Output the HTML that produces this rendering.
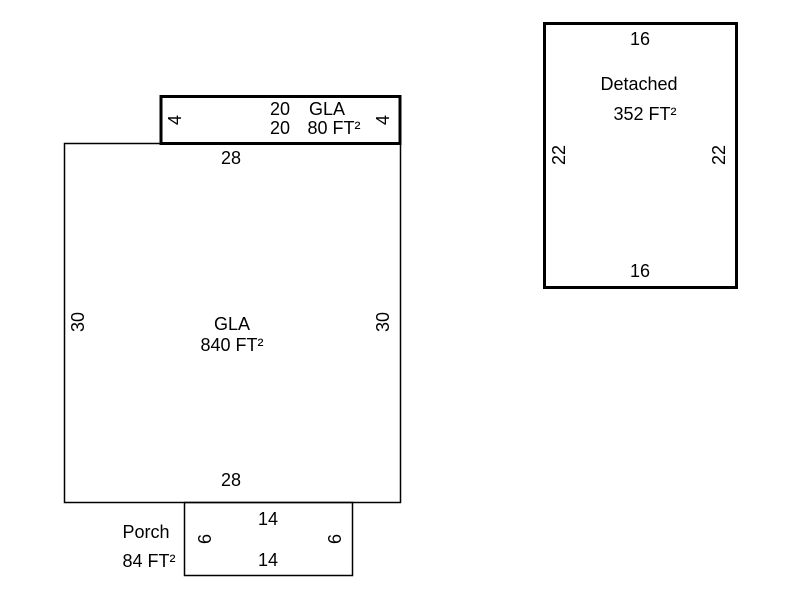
<!DOCTYPE html>
<html><head><style>
html,body{margin:0;padding:0;background:#fff;}
svg{display:block;font-family:"Liberation Sans",Arial,sans-serif;font-size:18px;}
</style></head><body>
<svg width="800" height="600" viewBox="0 0 800 600">
<g fill="none" stroke="#000">
<rect x="64.5" y="143.5" width="336" height="359" stroke-width="1.5"/>
<rect x="184.5" y="502.5" width="168" height="73" stroke-width="1.5"/>
<rect x="161" y="96.5" width="239" height="47" stroke-width="3"/>
<rect x="544.5" y="23.5" width="192" height="264" stroke-width="3"/>
</g>
<g fill="#000" text-anchor="middle">
<text x="280" y="115">20</text>
<text x="280" y="134">20</text>
<text x="327" y="115">GLA</text>
<text x="334" y="134">80 FT²</text>
<text transform="translate(175,120) rotate(-90)" dominant-baseline="central">4</text>
<text transform="translate(383,120) rotate(-90)" dominant-baseline="central">4</text>
<text x="231" y="164">28</text>
<text x="231" y="486">28</text>
<text x="232" y="330">GLA</text>
<text x="232" y="351">840 FT²</text>
<text transform="translate(78,322) rotate(-90)" dominant-baseline="central">30</text>
<text transform="translate(383,322) rotate(-90)" dominant-baseline="central">30</text>
<text x="268" y="525">14</text>
<text x="268" y="566">14</text>
<text x="146" y="538">Porch</text>
<text x="149" y="567">84 FT²</text>
<text transform="translate(205,539) rotate(-90)" dominant-baseline="central">6</text>
<text transform="translate(335,539) rotate(-90)" dominant-baseline="central">6</text>
<text x="640" y="45">16</text>
<text x="640" y="277">16</text>
<text x="639" y="90">Detached</text>
<text x="645" y="120">352 FT²</text>
<text transform="translate(559,155) rotate(-90)" dominant-baseline="central">22</text>
<text transform="translate(719,155) rotate(-90)" dominant-baseline="central">22</text>
</g>
</svg>
</body></html>
